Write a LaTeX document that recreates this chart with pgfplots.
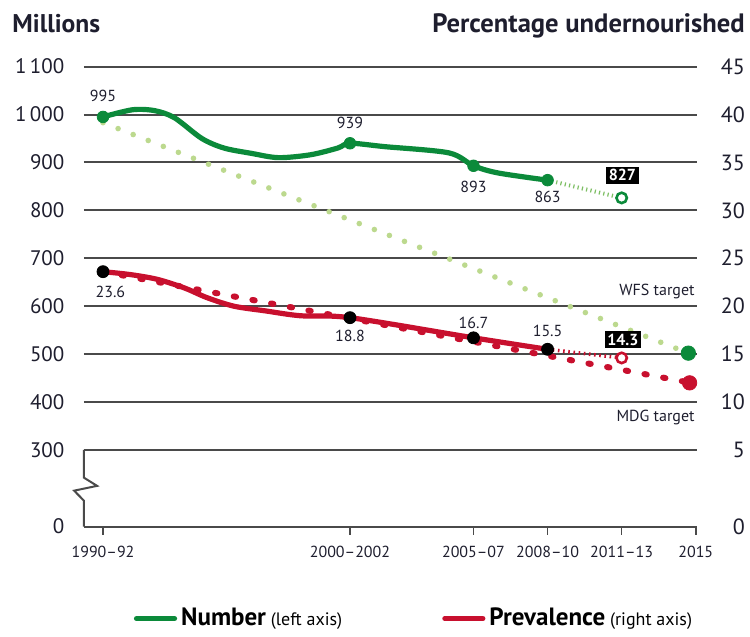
\documentclass[border=0pt]{standalone}
\usepackage{fontspec}
\setmainfont{PT Sans}
\usepackage{pgfplots}
\pgfplotsset{compat=1.18}
\usepackage{pgfplotstable}
\usetikzlibrary{calc}

\definecolor{numgreen}{HTML}{0B8A3A}
\definecolor{lightgreen}{HTML}{BCD98E}
\definecolor{midgreen}{HTML}{7DBE63}
\definecolor{prevred}{HTML}{C8102E}
\definecolor{gridgray}{HTML}{4A4A4A}
\definecolor{txt}{HTML}{1E1E2E}

% Number of undernourished (millions)
\pgfplotstableread{
year val
1991 995
1992.2 1010
1993.1 1008
1993.9 993
1995.0 950
1995.9 930
1997.0 919
1998.1 910
1999.4 916
2000.5 930
2001 940
2002.4 933
2005.0 920
2006 893
2007 878
2009 863
}\numbertable

% Prevalence (%)
\pgfplotstableread{
year pct
1991 23.6
1992.1 23.3
1993.2 22.8
1994.3 21.9
1995.2 20.9
1996.3 20.0
1997.6 19.5
1999.0 19.0
2001 18.8
2006 16.7
2009 15.5
}\prevtable

\pgfplotstableread{
year pct
1991 23.6
2001 18.8
2006 16.7
2009 15.5
}\prevpoints

\begin{document}
\begin{tikzpicture}
\begin{axis}[
  name=ax,
  scale only axis, width=306.5pt, height=230pt,
  xmin=1990.23, xmax=2015.05, ymin=140, ymax=1100,
  clip=false,
  axis line style={draw=none},
  ytick={140,300,400,500,600,700,800,900,1000,1100},
  yticklabels={0,300,400,500,600,700,800,900,1\,000,1\,100},
  ytick pos=left,
  ytick style={draw=none},
  ymajorgrids,
  grid style={gridgray, line width=1pt},
  yticklabel style={font=\fontsize{10.5}{12}\selectfont, text=txt, xshift=-2.3pt},
  xtick={1991,2001,2006,2009,2012,2015},
  xticklabels={1990--92,2000--2002,2005--07,2008--10,2011--13,2015},
  xtick pos=lower,
  tick align=outside,
  major tick length=4pt,
  xtick style={draw=gridgray, line width=0.8pt},
  xticklabel style={font=\fontsize{8}{9}\selectfont, text=txt, yshift=-2pt},
  /pgf/number format/assume math mode=true,
  legend style={at={(0.54,-0.200)}, anchor=center, draw=none, fill=none,
    legend columns=2, font=\fontsize{9}{11}\selectfont,
    /tikz/every even column/.append style={column sep=48pt}},
  legend image code/.code={\draw[#1, line cap=round] (0pt,0pt) -- (19pt,0pt);},
]
% broken axis
\draw[gridgray, line width=1pt] (axis cs:1990.23,300) -- (axis cs:1990.23,242) -- (axis cs:1990.76,225) -- (axis cs:1989.83,215) -- (axis cs:1990.23,194) -- (axis cs:1990.23,140);

% WFS target line
\addplot[lightgreen, line width=2.8pt, line cap=round, dash pattern=on 0pt off 8.1pt, forget plot] coordinates {(1991,983) (2014.7,502)};
% MDG target line
\addplot[prevred, line width=3pt, line cap=round, dash pattern=on 1.2pt off 8.3pt, forget plot] table[x=year, y expr={200+20*\thisrow{pct}}] {
year pct
1991 23.6
2015 11.9
};
% projections
\addplot[midgreen, line width=2pt, dash pattern=on 0.6pt off 1.6pt, forget plot] coordinates {(2009,863) (2012,826)};
\addplot[prevred, line width=1.8pt, dash pattern=on 0.8pt off 1.8pt, forget plot] table[x=year, y expr={200+20*\thisrow{pct}}] {
year pct
2009 15.5
2012 14.6
};

% main series
\addplot[numgreen, line width=2.6pt, smooth, tension=0.5, line cap=round] table[x=year, y=val] {\numbertable};
\addlegendentry{{\fontsize{12.5}{14}\selectfont\bfseries Number} (left axis)}
\addplot[prevred, line width=2.6pt, smooth, tension=0.5, line cap=round] table[x=year, y expr={200+20*\thisrow{pct}}] {\prevtable};
\addlegendentry{{\fontsize{12.5}{14}\selectfont\bfseries Prevalence} (right axis)}

% markers
\addplot[only marks, mark=*, mark size=2.9pt, numgreen, forget plot] coordinates {(1991,995) (2001,940) (2006,893) (2009,863)};
\addplot[only marks, mark=*, mark size=3.6pt, numgreen, forget plot] coordinates {(2014.7,502)};
\addplot[only marks, mark=*, mark size=2.6pt, mark options={draw=numgreen, fill=white, line width=1.3pt}, forget plot] coordinates {(2012,826)};
\addplot[only marks, mark=*, mark size=3pt, black, forget plot] table[x=year, y expr={200+20*\thisrow{pct}}] {\prevpoints};
\addplot[only marks, mark=*, mark size=2.6pt, mark options={draw=prevred, fill=white, line width=1.3pt}, forget plot] table[x=year, y expr={200+20*\thisrow{pct}}] {
year pct
2012 14.6
};
\addplot[only marks, mark=*, mark size=3.6pt, prevred, forget plot] table[x=year, y expr={200+20*\thisrow{pct}}] {
year pct
2014.75 12.0
};

% data labels
\begin{scope}[every node/.style={font=\fontsize{8}{9}\selectfont, text=txt, inner sep=0pt}]
\node at (axis cs:1991,1039) {995};
\node at (axis cs:2001,982) {939};
\node at (axis cs:2006,849) {893};
\node at (axis cs:2009,829) {863};
\node at (axis cs:1991.3,629) {23.6};
\node at (axis cs:2001,537) {18.8};
\node at (axis cs:2006,566) {16.7};
\node at (axis cs:2009,549) {15.5};
\node[fill=black, text=white, inner sep=1.3pt, font=\fontsize{8}{9}\selectfont\bfseries] at (axis cs:2012.03,873) {827};
\node[fill=black, text=white, inner sep=1.3pt, font=\fontsize{8}{9}\selectfont\bfseries] at (axis cs:2012.05,530) {14.3};
\node[anchor=east] at (axis cs:2014.97,631) {WFS target};
\node[anchor=east] at (axis cs:2014.97,368) {MDG target};
\end{scope}

% axis titles
\node[anchor=base west, inner sep=0pt, font=\fontsize{12.8}{14}\selectfont\bfseries, text=txt, xshift=-36pt, yshift=17pt] at (rel axis cs:0,1) {Millions};
\node[anchor=base east, inner sep=0pt, font=\fontsize{13.3}{14}\selectfont\bfseries, text=txt, xshift=24pt, yshift=17pt] at (rel axis cs:1,1) {Percentage undernourished};
\end{axis}

\begin{axis}[
  scale only axis, width=306.5pt, height=230pt,
  xmin=1990.23, xmax=2015.05, ymin=140, ymax=1100,
  hide x axis,
  axis line style={draw=none},
  ytick={140,300,400,500,600,700,800,900,1000,1100},
  yticklabels={0,5,10,15,20,25,30,35,40,45},
  ytick pos=right, yticklabel pos=right,
  ytick style={draw=none},
  yticklabel style={font=\fontsize{11}{12}\selectfont, text=txt, anchor=east, xshift=27.5pt},
  /pgf/number format/assume math mode=true,
]
\addplot[draw=none, forget plot] coordinates {(1991,500)};
\end{axis}

\pgfresetboundingbox
\path[use as bounding box] ($(ax.south west)+(-42pt,-55.2pt)$) rectangle ($(ax.north east)+(26.5pt,33.3pt)$);
\end{tikzpicture}
\end{document}
